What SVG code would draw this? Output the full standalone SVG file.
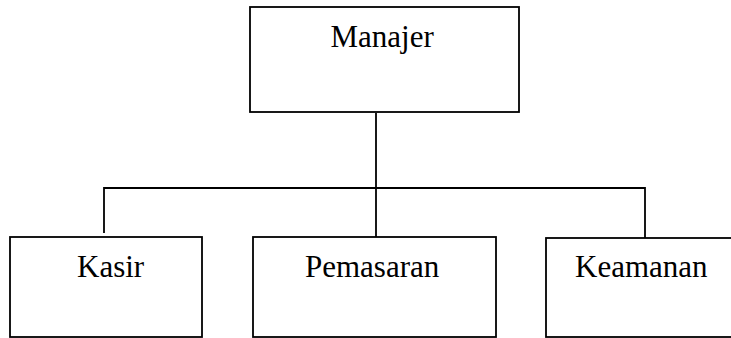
<svg xmlns="http://www.w3.org/2000/svg" width="731" height="338" viewBox="0 0 731 338">
<style>
.box{fill:#fff;stroke:#000;stroke-width:1.8}
.lbl{font-family:"Liberation Serif","Times New Roman",serif;font-size:31px;fill:#000}
.conn{fill:none;stroke:#000;stroke-width:1.8}
</style>
<rect width="731" height="338" fill="#fff"/>
<g id="connectors">
<line class="conn" x1="376" y1="113" x2="376" y2="237"/>
<polyline class="conn" points="104,233 104,188 645,188 645,238"/>
</g>
<g id="manajer">
<rect class="box" x="250" y="7" width="269" height="105"/>
<text class="lbl" x="330.5" y="47.3">Manajer</text>
</g>
<g id="kasir">
<rect class="box" x="10" y="237" width="192" height="100"/>
<text class="lbl" x="77" y="276.7">Kasir</text>
</g>
<g id="pemasaran">
<rect class="box" x="253" y="237" width="243" height="100"/>
<text class="lbl" x="305" y="276.7">Pemasaran</text>
</g>
<g id="keamanan">
<rect class="box" x="546" y="238" width="200" height="99"/>
<text class="lbl" x="575" y="277">Keamanan</text>
</g>
</svg>
